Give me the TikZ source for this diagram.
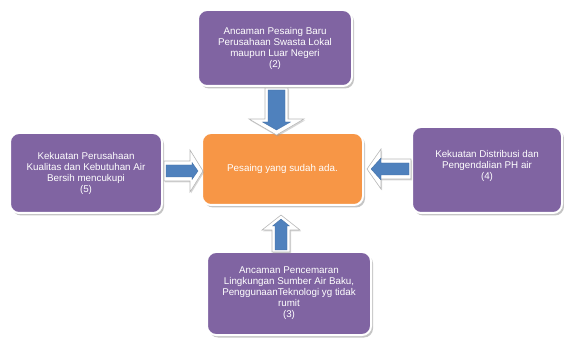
\documentclass[tikz,border=0pt]{standalone}
\usepackage{fontspec}
\setmainfont{Liberation Sans}
\usetikzlibrary{calc,shadows}
\definecolor{boxpurple}{HTML}{8064A2}
\definecolor{boxorange}{HTML}{F79646}
\definecolor{arrblue}{HTML}{4F81BD}
\newcommand{\blockarr}[6]{%
  \path ($(#2)!#5!(#1)$) coordinate (hb);
  \path[#6] ($(#1)!#3!90:(#2)$) -- ($(hb)!#3!90:(#2)$) -- ($(hb)!#4!90:(#2)$) -- (#2)
    -- ($(hb)!#4!-90:(#2)$) -- ($(hb)!#3!-90:(#2)$) -- ($(#1)!#3!-90:(#2)$) -- cycle;}
\tikzset{
  box/.style={rounded corners=9pt, fill=boxpurple, draw=white, line width=2pt,
    text=white, align=center, font=\fontsize{9.8}{11}\selectfont,
    drop shadow={shadow xshift=2pt, shadow yshift=-2.5pt, fill=black!45, opacity=.5}},
  mainbox/.style={box, fill=boxorange},
  arrout/.style={fill=white, draw=black!28, line width=.6pt, line join=miter,
    drop shadow={shadow xshift=1pt, shadow yshift=-1.5pt, fill=black!40, opacity=.4}},
  arrin/.style={fill=arrblue, draw=arrblue!85!black, line width=.3pt}
}
\begin{document}
\begin{tikzpicture}[x=1pt,y=1pt]
\useasboundingbox (0,0) rectangle (564,337);
\node[box, minimum width=154pt, minimum height=76pt] (top) at (275,289)
  {Ancaman Pesaing Baru\\Perusahaan Swasta Lokal\\maupun Luar Negeri\\(2)};
\node[box, minimum width=152pt, minimum height=80pt] (left) at (86,164)
  {Kekuatan Perusahaan\\Kualitas dan Kebutuhan Air\\Bersih mencukupi\\(5)};
\node[mainbox, minimum width=161pt, minimum height=72pt] (center) at (282.5,168)
  {Pesaing yang sudah ada.};
\node[box, minimum width=150pt, minimum height=86pt] (right) at (487,167)
  {Kekuatan Distribusi dan\\Pengendalian PH air\\(4)\\\mbox{}};
\node[box, minimum width=164pt, minimum height=83pt] (bottom) at (289,43.5)
  {Ancaman Pencemaran\\Lingkungan Sumber Air Baku,\\PenggunaanTeknologi yg tidak\\rumit\\(3)};
% arrow end points
\coordinate (ta) at (276.5,249); \coordinate (tb) at (276.5,202);
\coordinate (tai) at (276.5,247); \coordinate (tbi) at (276.5,207);
\coordinate (la) at (164,166); \coordinate (lb) at (203,166);
\coordinate (lai) at (166,166); \coordinate (lbi) at (198,166);
\coordinate (ra) at (411,168); \coordinate (rb) at (367,168);
\coordinate (rai) at (409,168); \coordinate (rbi) at (371,168);
\coordinate (ba) at (281,85); \coordinate (bb) at (281,122);
\coordinate (bai) at (281,87); \coordinate (bbi) at (281,118);
% top arrow
\blockarr{ta}{tb}{11.5pt}{27.5pt}{16pt}{arrout}
\blockarr{tai}{tbi}{8.5pt}{14pt}{8pt}{arrin}
% left arrow
\blockarr{la}{lb}{10pt}{21pt}{13pt}{arrout}
\blockarr{lai}{lbi}{6pt}{8.5pt}{6pt}{arrin}
% right arrow
\blockarr{ra}{rb}{10pt}{20pt}{14pt}{arrout}
\blockarr{rai}{rbi}{6pt}{11pt}{10pt}{arrin}
% bottom arrow
\blockarr{ba}{bb}{9pt}{19pt}{15pt}{arrout}
\blockarr{bai}{bbi}{6pt}{8.5pt}{7pt}{arrin}
\end{tikzpicture}
\end{document}
